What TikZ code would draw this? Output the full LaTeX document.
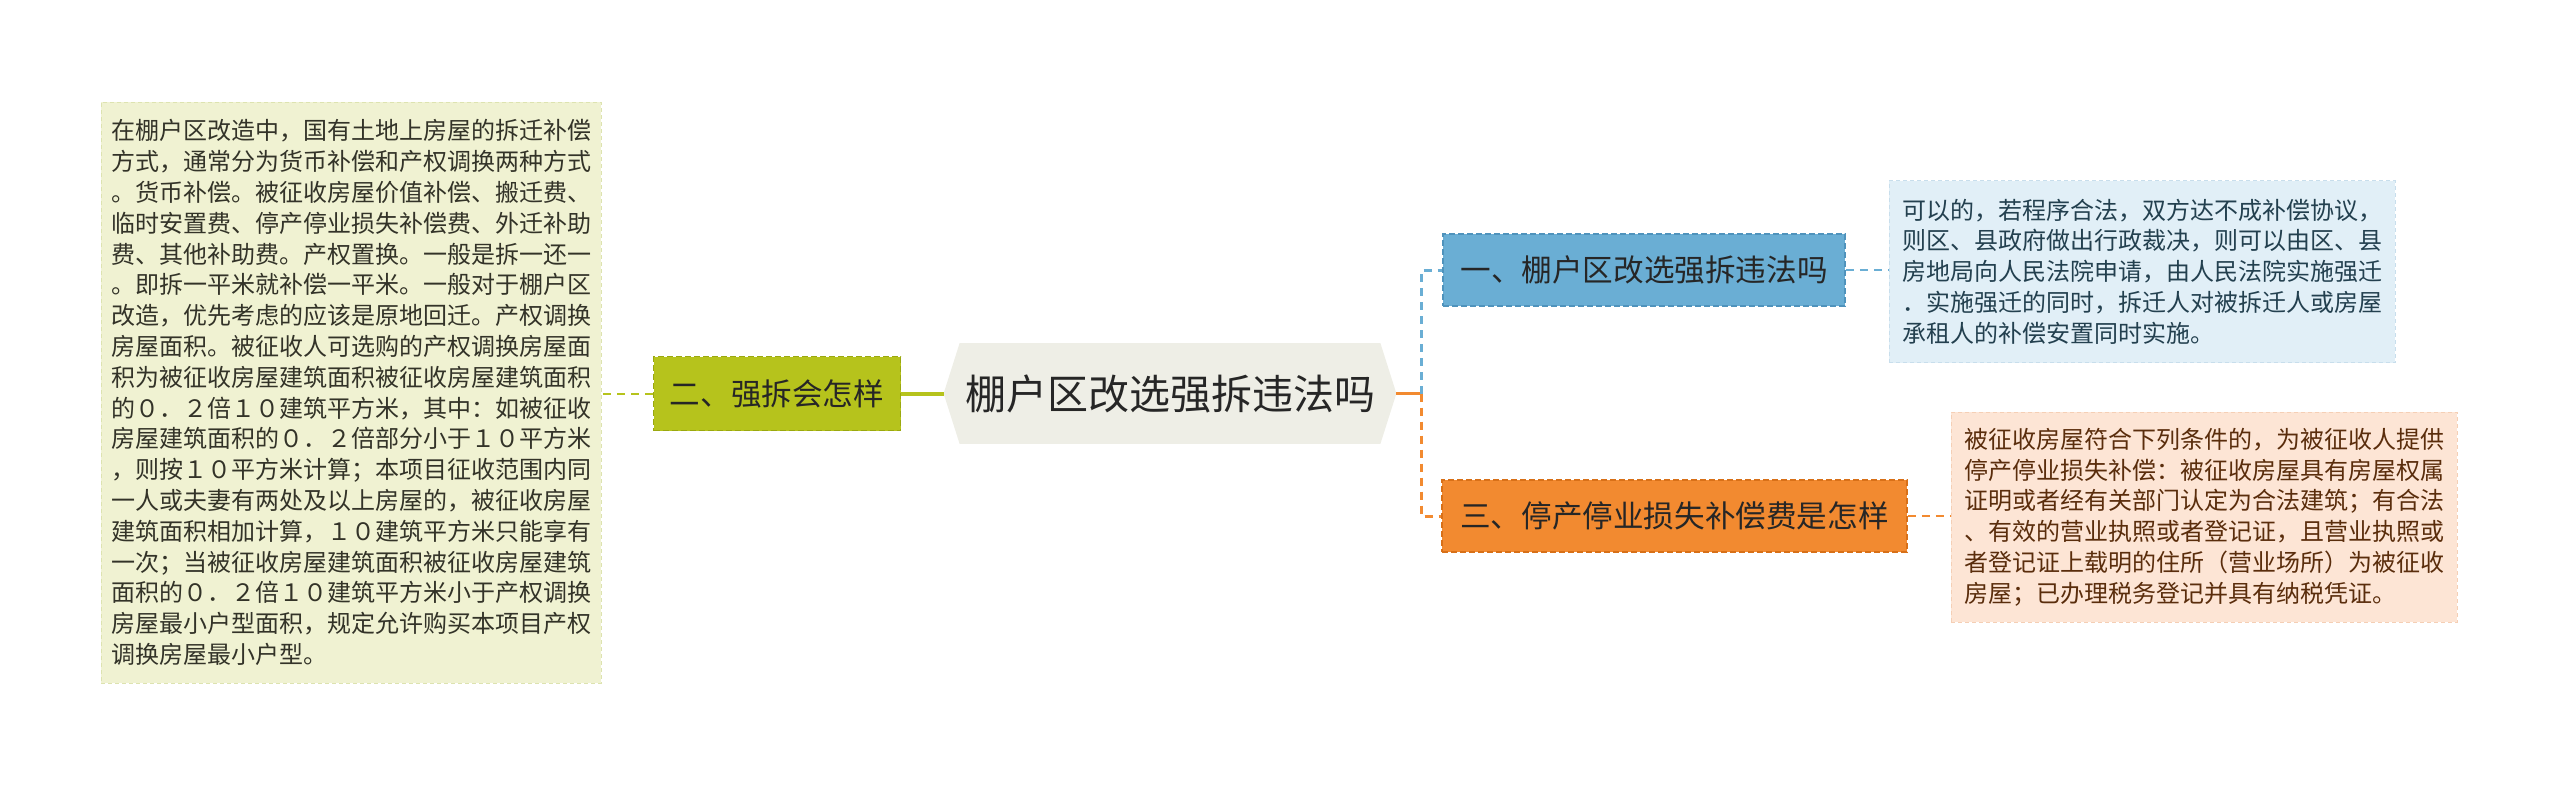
\documentclass[tikz,border=0pt]{standalone}
\usepackage{fontspec}
\setmainfont{Noto Sans CJK SC}
\usetikzlibrary{backgrounds}
\definecolor{oliveF}{HTML}{B6C31C}
\definecolor{oliveD}{HTML}{9AA810}
\definecolor{oliveL}{HTML}{F0F2D2}
\definecolor{oliveLD}{HTML}{DDE3B0}
\definecolor{centF}{HTML}{EEEEE6}
\definecolor{blueF}{HTML}{6AAED4}
\definecolor{blueD}{HTML}{4F93BC}
\definecolor{blueL}{HTML}{E1EFF7}
\definecolor{blueLD}{HTML}{C8DEEC}
\definecolor{orF}{HTML}{F28A30}
\definecolor{orD}{HTML}{D87018}
\definecolor{orL}{HTML}{FDE5D5}
\definecolor{orLD}{HTML}{F5CFB5}
\definecolor{txtD}{HTML}{333328}
\definecolor{txtB}{HTML}{23404F}
\definecolor{txtO}{HTML}{5A2D0C}
\tikzset{
  x=0.5pt, y=-0.5pt,
  box/.style={rectangle, inner sep=0pt, align=left},
  small/.style={font=\fontsize{12}{15.4}\selectfont},
  topic/.style={box, font=\fontsize{15.3}{18}\selectfont, text=black!85, dashed, line width=0.8pt, dash pattern=on 3pt off 1.5pt},
}
\begin{document}
\begin{tikzpicture}
\useasboundingbox (0,0) rectangle (2560,787);
% central
\node[box, minimum width=226pt, minimum height=50pt, font=\fontsize{20.5}{24}\selectfont, text=black!85] (central) at (1170,393.5) {棚户区改选强拆违法吗};
\begin{scope}[on background layer]
\fill[centF] (central.west) -- ([xshift=8pt]central.north west) -- ([xshift=-8pt]central.north east) -- (central.east) -- ([xshift=-8pt]central.south east) -- ([xshift=8pt]central.south west) -- cycle;
\end{scope}
% branch nodes
\node[topic, fill=oliveF, draw=oliveD, minimum width=123.5pt, minimum height=37pt] (two) at (777,393.5) {二、强拆会怎样};
\node[topic, fill=blueF, draw=blueD, minimum width=201pt, minimum height=36pt] (one) at (1644,270) {一、棚户区改选强拆违法吗};
\node[topic, fill=orF, draw=orD, minimum width=232.5pt, minimum height=36pt] (three) at (1674.5,516) {三、停产停业损失补偿费是怎样};
% detail boxes
\node[box, small, fill=oliveL, draw=oliveLD, dashed, dash pattern=on 2pt off 1.5pt, line width=0.5pt, text=txtD, minimum width=250pt, minimum height=290.5pt] (left) at (351,392.5) {在棚户区改造中，国有土地上房屋的拆迁补偿\\方式，通常分为货币补偿和产权调换两种方式\\。货币补偿。被征收房屋价值补偿、搬迁费、\\临时安置费、停产停业损失补偿费、外迁补助\\费、其他补助费。产权置换。一般是拆一还一\\。即拆一平米就补偿一平米。一般对于棚户区\\改造，优先考虑的应该是原地回迁。产权调换\\房屋面积。被征收人可选购的产权调换房屋面\\积为被征收房屋建筑面积被征收房屋建筑面积\\的０．２倍１０建筑平方米，其中：如被征收\\房屋建筑面积的０．２倍部分小于１０平方米\\，则按１０平方米计算；本项目征收范围内同\\一人或夫妻有两处及以上房屋的，被征收房屋\\建筑面积相加计算，１０建筑平方米只能享有\\一次；当被征收房屋建筑面积被征收房屋建筑\\面积的０．２倍１０建筑平方米小于产权调换\\房屋最小户型面积，规定允许购买本项目产权\\调换房屋最小户型。};
\node[box, small, fill=blueL, draw=blueLD, dashed, dash pattern=on 2pt off 1.5pt, line width=0.5pt, text=txtB, minimum width=253pt, minimum height=91pt] (rtop) at (2142,271.5) {可以的，若程序合法，双方达不成补偿协议，\\则区、县政府做出行政裁决，则可以由区、县\\房地局向人民法院申请，由人民法院实施强迁\\．实施强迁的同时，拆迁人对被拆迁人或房屋\\承租人的补偿安置同时实施。};
\node[box, small, fill=orL, draw=orLD, dashed, dash pattern=on 2pt off 1.5pt, line width=0.5pt, text=txtO, minimum width=253pt, minimum height=105pt] (rbot) at (2204,517) {被征收房屋符合下列条件的，为被征收人提供\\停产停业损失补偿：被征收房屋具有房屋权属\\证明或者经有关部门认定为合法建筑；有合法\\、有效的营业执照或者登记证，且营业执照或\\者登记证上载明的住所（营业场所）为被征收\\房屋；已办理税务登记并具有纳税凭证。};
% connectors
\coordinate (j) at (1421,393.5);
\draw[oliveF, line width=2pt] (central.west) -- (two.east);
\draw[oliveF, line width=1pt, dashed, dash pattern=on 4pt off 3pt] (two.west) -- (left.east |- two.west);
\draw[orF, line width=1.5pt] (central.east) -- (j);
\draw[blueF, line width=1.5pt, dash pattern=on 4pt off 3pt] (j) |- (one.west);
\draw[orF, line width=1.5pt, dash pattern=on 4pt off 3pt] (j) |- (three.west);
\draw[blueF, line width=0.9pt, dash pattern=on 4pt off 3pt] (one.east) -- (rtop.west |- one.east);
\draw[orF, line width=0.9pt, dash pattern=on 4pt off 3pt] (three.east) -- (rbot.west |- three.east);
\end{tikzpicture}
\end{document}
